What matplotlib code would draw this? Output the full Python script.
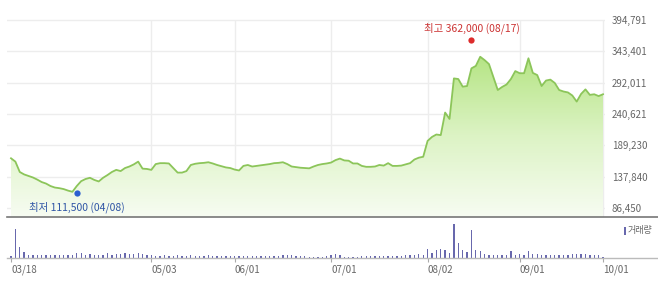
import numpy as np
import pandas as pd
import matplotlib
matplotlib.use('Agg')
import matplotlib.pyplot as plt
from matplotlib.lines import Line2D
from matplotlib.patches import Rectangle
from matplotlib.colors import LinearSegmentedColormap

plt.rcParams['font.family'] = ['Noto Sans CJK KR', 'DejaVu Sans']

############### Data
holidays = ['2021-05-05', '2021-05-19', '2021-08-16',
            '2021-09-20', '2021-09-21', '2021-09-22']
dates = pd.bdate_range('2021-03-18', '2021-10-01')
dates = dates[~dates.isin(pd.to_datetime(holidays))]

close = [
    168000, 162500, 145500, 141500, 139000, 136500, 133000, 129000, 126500, 122500,
    120000, 119000, 117500, 115000, 113000, 122500, 130500, 134000, 136000, 132500,
    130000, 136000, 140500, 145500, 149000, 147000, 152000, 154500, 158000, 162500,
    151000, 150500, 149000, 158500, 160000, 160000, 159500, 152000, 144500, 144500,
    147000, 157000, 159000, 160000, 160500, 161500, 159500, 157000, 155000, 153000,
    152000, 149500, 148000, 155500, 157000, 154500, 155500, 156500, 157500, 158500,
    160000, 160500, 161500, 158500, 154500, 153500, 152500, 152000, 151500, 154500,
    157000, 158500, 159500, 161000, 165000, 167500, 164500, 164000, 159500, 159500,
    155500, 154000, 154000, 154500, 157000, 156000, 160000, 155500, 155500, 156000,
    158000, 160000, 166000, 169000, 170500, 196500, 203000, 207000, 206000, 243000,
    232500, 299000, 298000, 285500, 286500, 315500, 319500, 334500, 329000, 322500,
    301500, 280000, 285000, 289000, 298000, 311000, 307500, 307500, 332000, 308000,
    304500, 286500, 295500, 297000, 291500, 280000, 277500, 276000, 271000, 261000,
    273500, 281000, 272000, 273000, 270000, 273000]

volume = [
    200, 2870, 1100, 600, 350, 350, 350, 350, 350, 350,
    350, 300, 300, 300, 300, 500, 500, 350, 400, 350,
    300, 350, 550, 350, 450, 400, 500, 400, 450, 500,
    450, 300, 300, 250, 250, 300, 250, 250, 300, 250,
    250, 300, 250, 250, 250, 300, 250, 250, 250, 250,
    250, 250, 250, 250, 250, 200, 250, 250, 200, 200,
    200, 250, 300, 300, 350, 250, 250, 200, 150, 150,
    150, 150, 200, 350, 400, 300, 150, 150, 150, 150,
    200, 200, 200, 200, 200, 200, 200, 200, 200, 200,
    300, 300, 350, 400, 300, 930, 500, 800, 900, 800,
    500, 3370, 1500, 800, 600, 2770, 800, 700, 400, 350,
    350, 350, 300, 350, 700, 300, 450, 350, 750, 400,
    400, 350, 300, 300, 300, 300, 300, 350, 400, 450,
    450, 400, 350, 300, 350, 150]

yticks = [86450, 137840, 189230, 240621, 292011, 343401, 394791]
xtick_dates = ['2021-03-18', '2021-05-03', '2021-06-01', '2021-07-01',
               '2021-08-02', '2021-09-01', '2021-10-01']

high_date, high_value = '2021-08-17', 362000
low_date, low_value = '2021-04-08', 111500

x = np.arange(len(dates))
close = np.array(close)
volume = np.array(volume)
xtick_idx = [dates.get_loc(pd.Timestamp(d)) for d in xtick_dates]
xtick_labels = [pd.Timestamp(d).strftime('%m/%d') for d in xtick_dates]
hi_i = dates.get_loc(pd.Timestamp(high_date))
lo_i = dates.get_loc(pd.Timestamp(low_date))

############### Layout helpers (pixels -> figure fraction)
W, H = 658, 282
def fx(p):
    return p / W
def fy(p):
    return 1 - p / H

step = (603 - 11) / (len(x) - 1)
xlim = (-(11 - 7) / step, len(x) - 1 + 2 / step)
ppx = (394791 - 86450) / (208 - 20)
ylim = (394791 - (217 - 20) * ppx, 394791 + (20 - 8) * ppx)

fig = plt.figure(figsize=(W / 100, H / 100), dpi=100)

############### Price panel
ax = fig.add_axes([fx(7), fy(217), fx(605) - fx(7), fy(8) - fy(217)])
ax.set_xlim(*xlim)
ax.set_ylim(*ylim)
for s in ax.spines.values():
    s.set_visible(False)

for v in yticks:
    ax.axhline(v, color='#ededed', lw=1, zorder=0)
ax.vlines(xtick_idx[1:], ylim[0], yticks[-1], color='#ededed', lw=1, zorder=0)

poly = ax.fill_between(x, close, ylim[0], color='none', lw=0)
cmap = LinearSegmentedColormap.from_list('g', ['#f7fcf2', '#dcf3c4', '#b4e482'])
grad = np.linspace(0, 1, 256).reshape(-1, 1)
im = ax.imshow(grad, extent=[xlim[0], xlim[1], ylim[0], 340000], origin='lower',
               aspect='auto', cmap=cmap, zorder=1)
im.set_clip_path(poly.get_paths()[0], transform=ax.transData)
ax.set_xlim(*xlim)
ax.set_ylim(*ylim)

ax.plot(x, close, color='#8cc55a', lw=1.3, zorder=2)

ax.plot(hi_i, high_value, 'o', color='#dd2b2b', ms=4.5, mec='none', zorder=3)
ax.text(hi_i, 394791 - 8 * ppx, '최고 %s (%s)' % (format(high_value, ','), pd.Timestamp(high_date).strftime('%m/%d')),
        color='#cc3333', fontsize=7.5, ha='center', va='center')
ax.plot(lo_i, low_value, 'o', color='#2c5fd0', ms=4.5, mec='none', zorder=3)
ax.text(lo_i, 394791 - 187 * ppx, '최저 %s (%s)' % (format(low_value, ','), pd.Timestamp(low_date).strftime('%m/%d')),
        color='#2f55a5', fontsize=7.5, ha='center', va='center')

ax.yaxis.tick_right()
ax.set_yticks(yticks)
ax.set_yticklabels([format(v, ',') for v in yticks])
ax.tick_params(axis='y', length=0, pad=5, labelsize=7, labelcolor='#666666')
ax.set_xticks([])

############### Volume panel
vax = fig.add_axes([fx(7), fy(258), fx(605) - fx(7), fy(217) - fy(258)])
vax.set_xlim(*xlim)
vax.set_ylim(0, volume.max() * 41 / 33.7)
for s in vax.spines.values():
    s.set_visible(False)
vax.bar(x, volume, width=0.3, color='#6868ad', lw=0)
vax.set_yticks([])
vax.set_xticks(xtick_idx)
vax.set_xticklabels(xtick_labels, ha='left')
vax.tick_params(axis='x', length=3, width=0.8, color='#aaaaaa', pad=1.5,
                labelsize=7, labelcolor='#666666')

fig.add_artist(Line2D([fx(7), 1], [fy(217), fy(217)], color='#777777', lw=1.2))
fig.add_artist(Line2D([fx(7), 1], [fy(258), fy(258)], color='#bbbbbb', lw=1))

fig.add_artist(Rectangle((fx(624), fy(235)), fx(2), fy(227) - fy(235), color='#6868ad', lw=0))
fig.text(fx(628), fy(231), '거래량', fontsize=6.5, color='#666666', va='center', ha='left')

fig.savefig('out.png', dpi=100)
